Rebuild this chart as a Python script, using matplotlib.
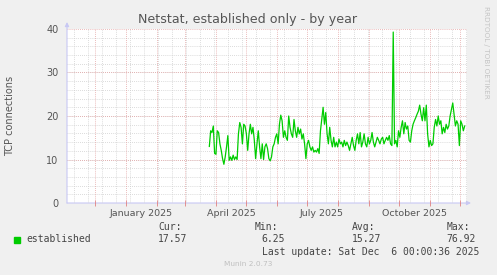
import numpy as np
import pandas as pd
import matplotlib
matplotlib.use('Agg')
import matplotlib.pyplot as plt
from matplotlib.transforms import blended_transform_factory

# data (daily-ish samples, late March .. early December 2025)
first_sample = '2025-03-25 08:00'
last_sample = '2025-12-05 16:00'
established = [
    13.0, 16.6, 16.2, 17.7, 11.4, 11.2, 16.6, 16.2, 13.6, 12.1,
    10.2, 8.9, 10.6, 12.9, 15.5, 9.8, 10.6, 9.8, 11.0, 10.0,
    10.6, 10.0, 15.9, 18.5, 17.4, 13.6, 18.1, 17.7, 15.9, 12.1,
    15.9, 18.1, 15.9, 17.4, 14.4, 10.2, 13.6, 16.6, 12.9, 10.2,
    13.6, 10.0, 12.9, 13.6, 12.5, 10.2, 9.7, 10.6, 12.9, 13.6,
    15.1, 15.9, 13.6, 18.1, 20.2, 18.9, 15.1, 16.6, 15.1, 14.4,
    20.0, 17.4, 15.9, 15.1, 19.2, 16.6, 15.1, 17.4, 15.9, 17.0,
    14.7, 15.9, 13.6, 10.2, 13.6, 14.4, 12.9, 12.1, 12.9, 11.7,
    12.1, 11.7, 12.5, 11.4, 16.6, 19.2, 22.0, 18.1, 20.8, 15.9,
    13.6, 17.4, 14.4, 12.9, 15.1, 12.9, 14.0, 12.9, 14.7, 13.6,
    14.0, 12.9, 14.4, 13.2, 14.0, 13.2, 12.1, 13.6, 15.1, 13.2,
    12.1, 14.4, 15.9, 13.6, 16.2, 12.9, 14.0, 15.9, 13.6, 12.9,
    15.1, 13.6, 14.4, 16.2, 14.0, 12.9, 14.0, 15.1, 14.4, 13.6,
    14.7, 15.1, 13.6, 14.4, 15.1, 14.4, 15.5, 13.6, 13.2, 39.3,
    13.6, 14.4, 12.9, 16.6, 15.1, 17.4, 18.9, 15.9, 18.5, 17.0,
    17.7, 14.4, 14.0, 16.6, 18.1, 18.9, 19.6, 20.4, 21.1, 22.5,
    20.4, 18.9, 21.9, 18.9, 22.5, 15.9, 12.9, 14.4, 13.2, 13.6,
    17.4, 19.2, 17.7, 20.0, 18.1, 18.9, 15.9, 17.4, 16.2, 18.1,
    17.0, 17.7, 20.0, 21.5, 23.0, 20.4, 17.7, 18.9, 18.1, 13.2,
    18.9, 18.1, 16.6, 17.7,
]
month_labels = ['January 2025', 'April 2025', 'July 2025', 'October 2025']
label_dates = ['2025-01-16', '2025-04-16', '2025-07-16', '2025-10-16']
y_ticks = [0, 10, 20, 30, 40]
stats_names = ['Cur:', 'Min:', 'Avg:', 'Max:']
stats_values = ['17.57', '6.25', '15.27', '76.92']

dates = pd.date_range(first_sample, last_sample, periods=len(established))

W, H = 497, 275
fig = plt.figure(figsize=(W / 100, H / 100), dpi=100, facecolor='#f0f0f0')
ax = fig.add_axes([67 / W, 1 - 203 / H, 400 / W, 174 / H])
ax.set_facecolor('white')

txt = '#555555'
red_grid = '#e4a3a3'
gray_grid = '#cfcfcf'

# grids
months = pd.date_range('2024-12-01', '2025-12-01', freq='MS')
minors = pd.date_range('2024-11-10', '2025-12-07', freq='14D')
for d in minors:
    ax.axvline(d, color=gray_grid, lw=0.6, ls=(0, (1, 1.5)), zorder=1)
for v in np.arange(2, 40, 2):
    ax.axhline(v, color=gray_grid, lw=0.6, ls=(0, (1, 1.5)), zorder=1)
for d in months:
    ax.axvline(d, color=red_grid, lw=0.6, ls=(0, (1, 1.5)), zorder=2)
for v in y_ticks[1:]:
    ax.axhline(v, color=red_grid, lw=0.6, ls=(0, (1, 1.5)), zorder=2)

ax.plot(dates, established, color='#00cc00', lw=0.9, zorder=3)

ax.set_xlim(pd.Timestamp('2024-11-03'), pd.Timestamp('2025-12-08'))
ax.set_ylim(0, 40)
for s in ax.spines.values():
    s.set_visible(False)

ax.set_xticks(months)
ax.set_xticklabels([])
ax.tick_params(axis='x', direction='inout', length=4, width=0.6, color='#e08080')
ax.set_yticks(y_ticks)
ax.set_yticklabels([str(t) for t in y_ticks], fontsize=7, color=txt)
ax.tick_params(axis='y', length=0, pad=6)

tr = blended_transform_factory(ax.transData, ax.transAxes)
for lab, d in zip(month_labels, label_dates):
    ax.text(pd.Timestamp(d), -0.035, lab, transform=tr, ha='center', va='top',
            fontsize=6.8, color=txt)

# axis lines with arrows
axis_col = '#c8c8f4'
ax.annotate('', xy=(1.01, 0), xytext=(0, 0), xycoords='axes fraction',
            arrowprops=dict(arrowstyle='-|>', color=axis_col, lw=0.8,
                            mutation_scale=6, shrinkA=0, shrinkB=0),
            annotation_clip=False, zorder=0)
ax.annotate('', xy=(0, 1.04), xytext=(0, 0), xycoords='axes fraction',
            arrowprops=dict(arrowstyle='-|>', color=axis_col, lw=0.8,
                            mutation_scale=6, shrinkA=0, shrinkB=0),
            annotation_clip=False)

fig.text(248 / W, 1 - 19 / H, 'Netstat, established only - by year',
         ha='center', va='center', fontsize=9.1, color=txt)
fig.text(10 / W, 1 - 116 / H, 'TCP connections', rotation=90,
         ha='center', va='center', fontsize=7, color=txt)
fig.text(486 / W, 1 - 6 / H, 'RRDTOOL / TOBI OETIKER', rotation=270,
         ha='center', va='top', fontsize=5.2, color='#c4c4c4')

# legend block
mono = 'DejaVu Sans Mono'
leg_txt = '#444444'
fig.patches.append(plt.Rectangle((14 / W, 1 - 243 / H), 6 / W, 6 / H,
                                 transform=fig.transFigure, color='#00cc00'))
fig.text(26 / W, 1 - 239.5 / H, 'established', family=mono, fontsize=7,
         color=leg_txt, va='center', ha='left')
head_x = [158.3, 255, 351.7, 446.7]
val_x = [158.3, 261.7, 351.7, 446.7]
for nm, hx, val, vx in zip(stats_names, head_x, stats_values, val_x):
    fig.text(hx / W, 1 - 227 / H, nm, family=mono, fontsize=7, color=leg_txt,
             va='center', ha='left')
    fig.text(vx / W, 1 - 239.5 / H, val, family=mono, fontsize=7,
             color=leg_txt, va='center', ha='left')
fig.text(261.7 / W, 1 - 252 / H, 'Last update: Sat Dec  6 00:00:36 2025',
         family=mono, fontsize=7, color=leg_txt, va='center', ha='left')
fig.text(248 / W, 1 - 264 / H, 'Munin 2.0.73', ha='center', va='center',
         fontsize=5.3, color='#c0c0c0')

fig.savefig('out.png', dpi=100, facecolor=fig.get_facecolor())
